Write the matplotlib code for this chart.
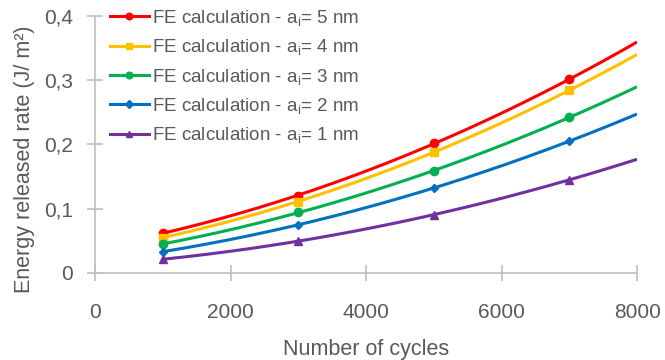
import numpy as np
import matplotlib
matplotlib.use("Agg")
import matplotlib.pyplot as plt
from matplotlib.lines import Line2D

plt.rcParams['font.family'] = ['Liberation Sans', 'DejaVu Sans']
plt.rcParams['mathtext.fontset'] = 'custom'
plt.rcParams['mathtext.rm'] = 'Liberation Sans'
plt.rcParams['mathtext.it'] = 'Liberation Sans'

# data
cycles = [1000, 3000, 5000, 7000]
a_sizes = [5, 4, 3, 2, 1]
g_5nm = [0.062, 0.120, 0.202, 0.301]
g_4nm = [0.055, 0.111, 0.188, 0.284]
g_3nm = [0.045, 0.094, 0.159, 0.242]
g_2nm = [0.033, 0.075, 0.132, 0.205]
g_1nm = [0.021, 0.050, 0.090, 0.145]
x_ticks = [0, 2000, 4000, 6000, 8000]
y_ticks = [0, 0.1, 0.2, 0.3, 0.4]
y_labels = ["0", "0,1", "0,2", "0,3", "0,4"]

series = [g_5nm, g_4nm, g_3nm, g_2nm, g_1nm]
colors = ["#FF0000", "#FFC000", "#00B050", "#0070C0", "#7030A0"]
markers = ["o", "s", "o", "D", "^"]
msizes = [6, 6, 6, 4.5, 6]
text_col = "#595959"
axis_col = "#BFBFBF"

fig = plt.figure(figsize=(6.65, 3.6), dpi=100)
ax = fig.add_axes([0.143, 0.242, 0.815, 0.714])

handles = []
for a, ys, c, m, ms in zip(a_sizes, series, colors, markers, msizes):
    # polynomial trendline (order 2), forecast forward to 8000 cycles
    coef = np.polyfit(cycles, ys, 2)
    xs = np.linspace(cycles[0], 8000, 200)
    ax.plot(xs, np.polyval(coef, xs), color=c, lw=2.2, solid_capstyle="butt")
    ax.plot(cycles, ys, ls="none", marker=m, color=c, ms=ms)
    handles.append(Line2D([], [], color=c, lw=2.2, marker=m, ms=ms * 0.8,
                          label="FE calculation - a$_\\mathrm{i}$= %d nm" % a))

ax.set_xlim(0, 8000)
ax.set_ylim(0, 0.4)
ax.set_xticks(x_ticks)
ax.set_yticks(y_ticks)
ax.set_yticklabels(y_labels)

for s in ["top", "right"]:
    ax.spines[s].set_visible(False)
for s in ["left", "bottom"]:
    ax.spines[s].set_color(axis_col)
    ax.spines[s].set_linewidth(1.2)
ax.tick_params(axis="both", direction="inout", length=12, width=1.2,
               color=axis_col, labelcolor=text_col, labelsize=15)
ax.tick_params(axis="x", pad=16)
ax.tick_params(axis="y", pad=10)

ax.set_xlabel("Number of cycles", fontsize=15.5, color=text_col, labelpad=12)
ax.set_ylabel("Energy released rate (J/ m²)", fontsize=15.5, color=text_col)
ax.yaxis.set_label_coords(-0.11, 0.444)

leg = ax.legend(handles=handles, loc="upper left", bbox_to_anchor=(0.013, 1.06),
                frameon=False, fontsize=13.5, handlelength=2.1, handletextpad=0.15,
                labelspacing=0.5, borderaxespad=0)
for t in leg.get_texts():
    t.set_color(text_col)

fig.savefig("out.png", dpi=100)
